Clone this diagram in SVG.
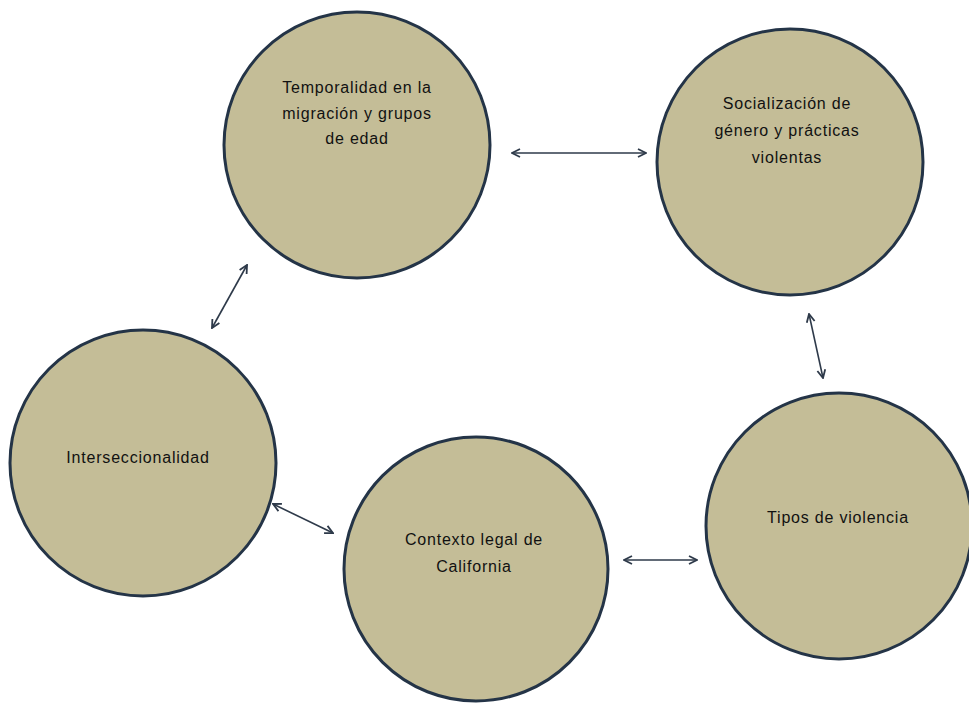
<svg xmlns="http://www.w3.org/2000/svg" width="969" height="704" viewBox="0 0 969 704">
<style>
.c{fill:#c4bd97;stroke:#243447;stroke-width:3}
.t{font-family:"Liberation Sans","DejaVu Sans",sans-serif;font-size:16px;letter-spacing:0.8px;fill:#111111;text-anchor:middle}
.a{stroke:#2e3a4a;stroke-width:1.6;fill:none;marker-start:url(#h);marker-end:url(#h)}
</style>
<defs>
<marker id="h" viewBox="0 0 10 10" refX="9" refY="5" markerWidth="10" markerHeight="10" markerUnits="userSpaceOnUse" orient="auto-start-reverse">
<path d="M1,1 L9,5 L1,9" fill="none" stroke="#2e3a4a" stroke-width="1.8"/>
</marker>
</defs>
<rect width="969" height="704" fill="#ffffff"/>
<g id="connectors">
<line class="a" x1="512" y1="153" x2="646" y2="153"/>
<line class="a" x1="247" y1="265" x2="212" y2="328"/>
<line class="a" x1="809" y1="314" x2="823" y2="378"/>
<line class="a" x1="273" y1="504" x2="333" y2="533"/>
<line class="a" x1="624" y1="560" x2="697" y2="560"/>
</g>
<g id="temporalidad">
<circle class="c" cx="357" cy="145" r="133"/>
<text class="t" x="357" y="93">Temporalidad en la</text>
<text class="t" x="357" y="119">migración y grupos</text>
<text class="t" x="357" y="144">de edad</text>
</g>
<g id="socializacion">
<circle class="c" cx="790" cy="162" r="133"/>
<text class="t" x="787" y="109">Socialización de</text>
<text class="t" x="787" y="136">género y prácticas</text>
<text class="t" x="787" y="163">violentas</text>
</g>
<g id="interseccionalidad">
<circle class="c" cx="143" cy="463" r="133"/>
<text class="t" x="138" y="463">Interseccionalidad</text>
</g>
<g id="contexto">
<circle class="c" cx="476" cy="569" r="132"/>
<text class="t" x="474" y="545">Contexto legal de</text>
<text class="t" x="474" y="572">California</text>
</g>
<g id="tipos">
<circle class="c" cx="839" cy="526" r="133"/>
<text class="t" x="838" y="523">Tipos de violencia</text>
</g>
</svg>
